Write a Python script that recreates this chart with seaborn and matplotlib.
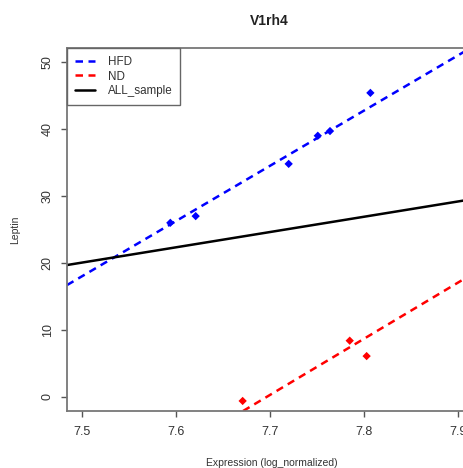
import matplotlib
matplotlib.use("Agg")
import matplotlib.pyplot as plt
import pandas as pd
import seaborn as sns
from matplotlib.lines import Line2D

# Leptin vs. V1rh4 expression, per diet group
hfd_expr = [7.594, 7.621, 7.720, 7.751, 7.764, 7.807]
hfd_leptin = [26.0, 27.0, 34.8, 39.0, 39.7, 45.4]
nd_expr = [7.671, 7.785, 7.803]
nd_leptin = [-0.6, 8.4, 6.1]

# Linear fits: leptin = intercept + slope * expression
fit_names = ["HFD", "ND", "ALL_sample"]
fit_slopes = [82.4, 83.8, 22.8]
fit_intercepts = [-599.98, -644.97, -150.94]

x_ticks = [7.5, 7.6, 7.7, 7.8, 7.9]
y_ticks = [0, 10, 20, 30, 40, 50]

sns.set_style("white")
plt.rcParams["font.family"] = ["Liberation Sans", "DejaVu Sans"]

df = pd.DataFrame({
    "expr": hfd_expr + nd_expr,
    "leptin": hfd_leptin + nd_leptin,
    "group": ["HFD"] * len(hfd_expr) + ["ND"] * len(nd_expr),
})

fig = plt.figure(figsize=(4.64, 4.68), dpi=100)
ax = fig.add_axes([0.1444, 0.1218, 0.8826, 0.7756])
ax.set_xlim(7.484, 7.920)
ax.set_ylim(-2.1, 52.1)

colors = {"HFD": "#0000FF", "ND": "#FF0000", "ALL_sample": "#000000"}
styles = {"HFD": (0, (3.0, 2.2)), "ND": (0, (3.0, 2.2)), "ALL_sample": "-"}

sns.scatterplot(data=df, x="expr", y="leptin", hue="group",
                palette=colors, marker="D", s=18, edgecolor="none",
                legend=False, ax=ax, zorder=3)

for name, slope, icpt in zip(fit_names, fit_slopes, fit_intercepts):
    x0 = 7.7
    ax.axline((x0, icpt + slope * x0), slope=slope, color=colors[name],
              linestyle=styles[name], linewidth=1.8, zorder=2)

ax.set_xticks(x_ticks)
ax.set_yticks(y_ticks)
ax.set_xticklabels([f"{v:.1f}" for v in x_ticks])
ax.set_yticklabels([str(v) for v in y_ticks], rotation=90, va="center")
ax.tick_params(axis="both", which="major", length=4.5, width=1.0,
               color="#555555", labelcolor="#333333", labelsize=9,
               left=True, bottom=True)
ax.tick_params(axis="x", pad=6.5)
ax.tick_params(axis="y", pad=5)
for sp in ax.spines.values():
    sp.set_color("#777777")
    sp.set_linewidth(1.3)

ax.set_xlabel("Expression (log_normalized)", fontsize=7.5, color="#333333",
              labelpad=14.5)
ax.set_ylabel("Leptin", fontsize=7.5, color="#333333", labelpad=15.5)
fig.text(0.581, 0.955, "V1rh4", ha="center", va="center", fontsize=10,
         fontweight="bold", color="#222222")

handles = [Line2D([0], [0], color=colors[n], linestyle=styles[n], linewidth=1.8)
           for n in fit_names]
leg = ax.legend(handles, fit_names, loc="upper left", bbox_to_anchor=(0, 1),
                borderaxespad=0, fancybox=False, framealpha=1,
                edgecolor="#666666", fontsize=8.4, handlelength=1.75,
                handletextpad=1.05, labelspacing=0.22, borderpad=0.68)
leg.get_frame().set_linewidth(1.0)
for t in leg.get_texts():
    t.set_color("#333333")

fig.savefig("out.png", dpi=100)
